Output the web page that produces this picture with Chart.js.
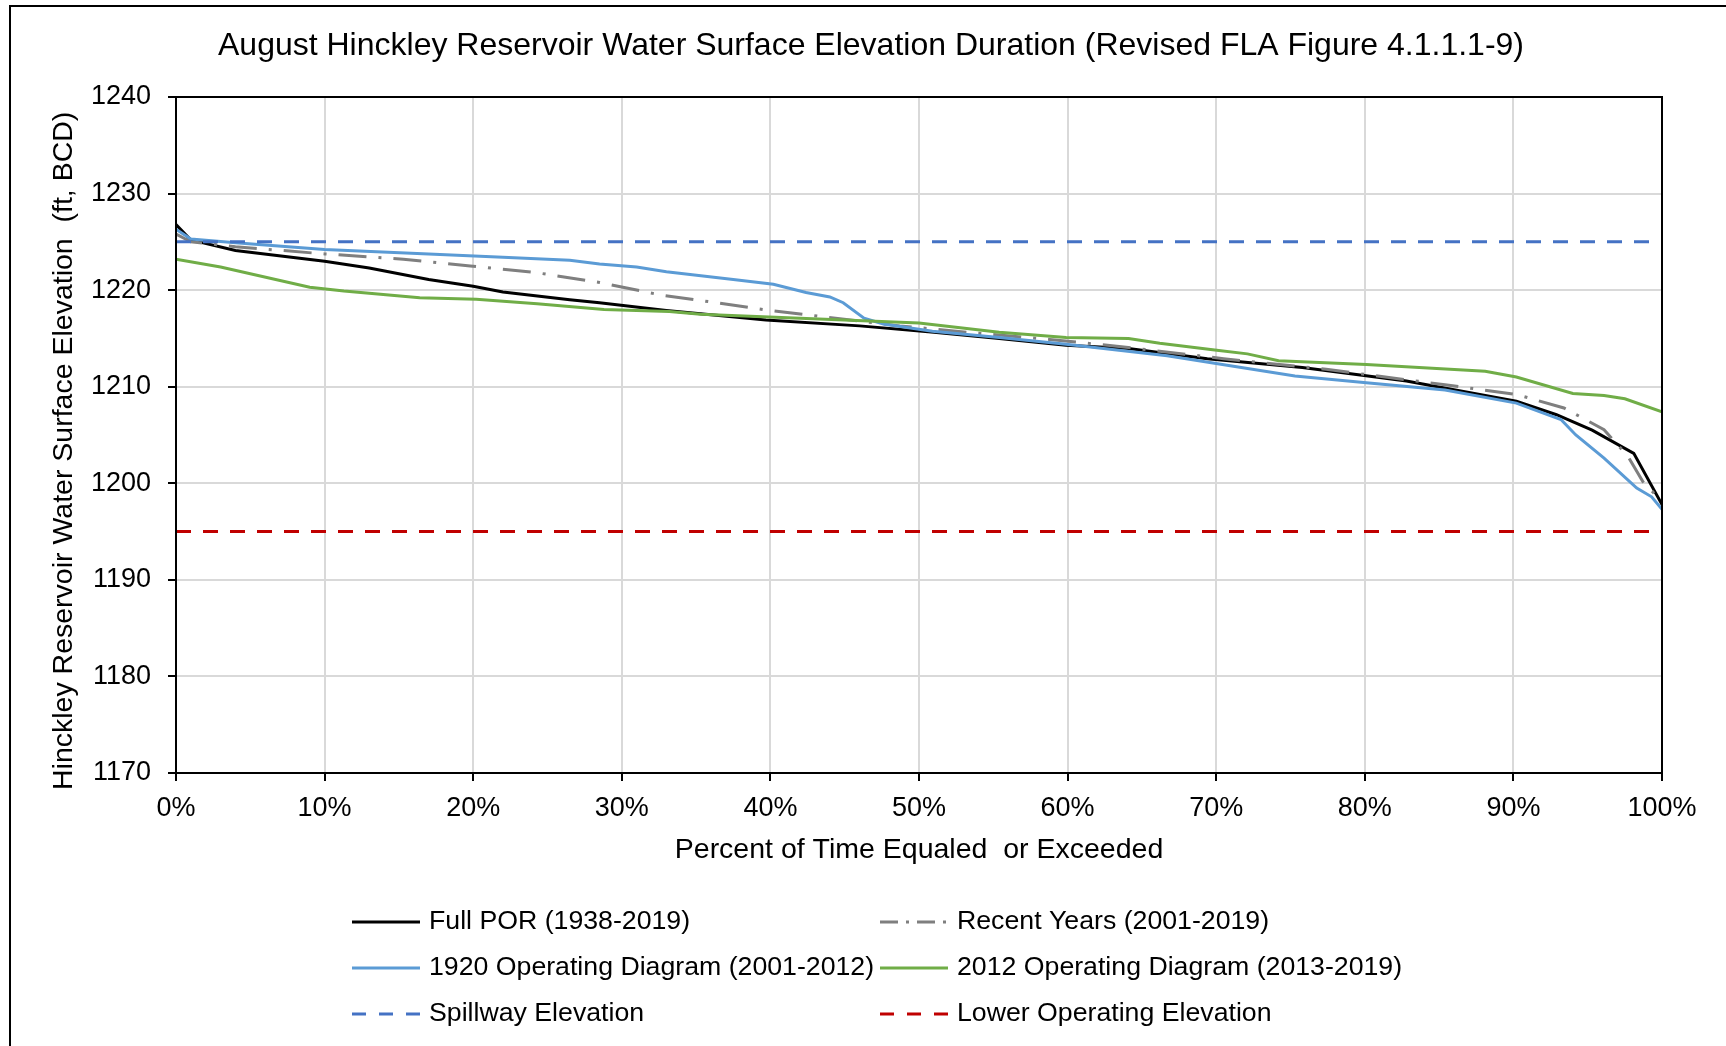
<!DOCTYPE html>
<html>
<head>
<meta charset="utf-8">
<script src="https://cdn.jsdelivr.net/npm/chart.js@4.4.1/dist/chart.umd.min.js"></script>
<style>
  html, body { margin: 0; padding: 0; background: #fff; }
  #wrap { position: relative; width: 1726px; height: 1046px; }
  #frame { position: absolute; left: 9px; top: 5px; right: 0; bottom: 0;
           border-left: 2px solid #000; border-top: 2px solid #000; pointer-events: none; }
  canvas { display: block; }
</style>
</head>
<body>
<div id="wrap">
  <canvas id="chart" width="1726" height="1046"></canvas>
  <div id="frame"></div>
</div>
<script>
// values (x = percent of time, y = elevation ft BCD)
const fullX = [0, 1, 4, 10, 13, 17, 20, 22, 26.5, 28.5, 33, 39.7, 46, 51, 55.4, 59.9, 64.1, 69.4, 75.8, 82.8, 90.2, 92.9, 95.3, 98.1, 100];
const fullY = [1226.8, 1225.2, 1224.1, 1223.0, 1222.3, 1221.1, 1220.4, 1219.8, 1219.0, 1218.7, 1217.9, 1216.9, 1216.3, 1215.65, 1215.0, 1214.3, 1213.95, 1212.9, 1212.0, 1210.6, 1208.5, 1207.1, 1205.5, 1203.1, 1197.8];

const recentX = [0, 1, 4, 10, 15.3, 19.8, 24.3, 28.5, 32.6, 35.9, 39.7, 43.8, 48.7, 53.2, 58.8, 64.1, 70.5, 77.4, 85.4, 90.2, 93.4, 96.1, 97.7, 98.7, 100];
const recentY = [1225.8, 1225.0, 1224.5, 1223.75, 1223.2, 1222.5, 1221.8, 1220.8, 1219.5, 1218.8, 1217.95, 1217.2, 1216.3, 1215.65, 1214.9, 1214.06, 1212.9, 1211.8, 1210.2, 1209.2, 1207.8, 1205.55, 1202.8, 1200.2, 1198.1];

const op1920X = [0, 1, 4, 10, 17, 22, 26.5, 28.5, 31, 33, 37.5, 40.2, 42.4, 44, 44.9, 46.3, 47.6, 50.9, 55.4, 59.9, 66.7, 75.3, 80.1, 85.4, 90.2, 93.2, 94.2, 96.1, 98.3, 99.3, 100];
const op1920Y = [1226.3, 1225.3, 1224.9, 1224.2, 1223.75, 1223.4, 1223.1, 1222.7, 1222.4, 1221.9, 1221.1, 1220.6, 1219.75, 1219.3, 1218.7, 1217.1, 1216.5, 1215.75, 1215.1, 1214.4, 1213.2, 1211.1, 1210.4, 1209.65, 1208.3, 1206.6, 1205.0, 1202.6, 1199.5, 1198.6, 1197.3];

const op2012X = [0, 3, 9, 11.3, 16.4, 20.2, 24.3, 28.8, 33.2, 35.3, 42, 50, 55.4, 59.9, 64.1, 66.2, 69.9, 72.1, 74.2, 80.1, 88.1, 90.2, 94, 96.1, 97.5, 100];
const op2012Y = [1223.2, 1222.4, 1220.3, 1219.9, 1219.2, 1219.05, 1218.6, 1218.0, 1217.8, 1217.5, 1217.1, 1216.6, 1215.65, 1215.1, 1215.0, 1214.5, 1213.8, 1213.4, 1212.7, 1212.3, 1211.6, 1211.0, 1209.3, 1209.1, 1208.75, 1207.4];

const limitX = [0, 100];
const spillwayY = [1225, 1225];
const lowerOpY = [1195, 1195];

const labels = [
  'Full POR (1938-2019)',
  'Recent Years (2001-2019)',
  '1920 Operating Diagram (2001-2012)',
  '2012 Operating Diagram (2013-2019)',
  'Spillway Elevation',
  'Lower Operating Elevation'
];

const chartTitle = 'August Hinckley Reservoir Water Surface Elevation Duration (Revised FLA Figure 4.1.1.1-9)';

function pts(xs, ys) {
  return xs.map((x, i) => ({ x: x, y: ys[i] }));
}

const FONT = 'Arial, "Liberation Sans", sans-serif';

// title sits a bit right of centre in the original, so draw it here
const titlePlugin = {
  id: 'excelTitle',
  afterDraw(chart) {
    const ctx = chart.ctx;
    ctx.save();
    ctx.fillStyle = '#000';
    ctx.font = '32px ' + FONT;
    ctx.textAlign = 'center';
    ctx.textBaseline = 'middle';
    ctx.fillText(chartTitle, 871, 46);
    ctx.restore();
  }
};

// two-column legend like the Excel one
const legendCols = [352, 880];
const legendRows = [922, 968, 1014];
const legendPlugin = {
  id: 'excelLegend',
  afterDraw(chart) {
    const ctx = chart.ctx;
    ctx.save();
    chart.data.datasets.forEach((ds, i) => {
      const x = legendCols[i % 2];
      const y = legendRows[Math.floor(i / 2)];
      ctx.beginPath();
      ctx.strokeStyle = ds.borderColor;
      ctx.lineWidth = 3;
      ctx.setLineDash(ds.legendDash || []);
      ctx.moveTo(x, y);
      ctx.lineTo(x + 68, y);
      ctx.stroke();
      ctx.setLineDash([]);
      ctx.fillStyle = '#000';
      ctx.font = '26.7px ' + FONT;
      ctx.textBaseline = 'middle';
      ctx.fillText(ds.label, x + 77, y);
    });
    ctx.restore();
  }
};

// black frame around plot area
const framePlugin = {
  id: 'plotFrame',
  afterDatasetsDraw(chart) {
    const a = chart.chartArea;
    const ctx = chart.ctx;
    ctx.save();
    ctx.strokeStyle = '#000';
    ctx.lineWidth = 2;
    ctx.strokeRect(a.left, a.top, a.right - a.left, a.bottom - a.top);
    ctx.restore();
  }
};

const ctx = document.getElementById('chart').getContext('2d');
new Chart(ctx, {
  type: 'line',
  data: {
    datasets: [
      { label: labels[0], data: pts(fullX, fullY), borderColor: '#000000', borderWidth: 3, order: 6 },
      { label: labels[1], data: pts(recentX, recentY), borderColor: '#7f7f7f', borderWidth: 3,
        borderDash: [28, 12, 3, 12], legendDash: [18, 8, 3, 8], order: 5 },
      { label: labels[2], data: pts(op1920X, op1920Y), borderColor: '#5b9bd5', borderWidth: 3, order: 4 },
      { label: labels[3], data: pts(op2012X, op2012Y), borderColor: '#70ad47', borderWidth: 3, order: 3 },
      { label: labels[4], data: pts(limitX, spillwayY), borderColor: '#4472c4', borderWidth: 3,
        borderDash: [15, 12], legendDash: [14, 13], order: 2 },
      { label: labels[5], data: pts(limitX, lowerOpY), borderColor: '#c00000', borderWidth: 3,
        borderDash: [15, 12], legendDash: [14, 13], order: 1 }
    ]
  },
  options: {
    responsive: false,
    animation: false,
    elements: {
      point: { radius: 0 },
      line: { tension: 0, fill: false, borderCapStyle: 'butt' }
    },
    layout: { padding: { left: 10, right: 64, top: 97, bottom: 0 } },
    plugins: {
      legend: { display: false },
      tooltip: { enabled: false },
      title: { display: false }
    },
    scales: {
      x: {
        type: 'linear',
        min: 0,
        max: 100,
        afterFit(scale) { scale.height = 273; },
        ticks: {
          stepSize: 10,
          color: '#000',
          padding: 11,
          maxRotation: 0,
          font: { family: FONT, size: 27 },
          callback: v => v + '%'
        },
        grid: { color: '#d9d9d9', lineWidth: 2, tickColor: '#000', tickLength: 8 },
        border: { color: '#000', width: 2 },
        title: {
          display: true,
          text: 'Percent of Time Equaled  or Exceeded',
          color: '#000',
          font: { family: FONT, size: 28.5, lineHeight: 1.2 },
          padding: { bottom: 179 }
        }
      },
      y: {
        min: 1170,
        max: 1240,
        afterFit(scale) { scale.width = 166; },
        ticks: {
          stepSize: 10,
          color: '#000',
          padding: 17,
          font: { family: FONT, size: 27 },
          callback: v => String(v)
        },
        grid: { color: '#d9d9d9', lineWidth: 2, tickColor: '#000', tickLength: 8 },
        border: { color: '#000', width: 2 },
        title: {
          display: true,
          text: 'Hinckley Reservoir Water Surface Elevation  (ft, BCD)    ',
          color: '#000',
          font: { family: FONT, size: 28.5, lineHeight: 1.2 },
          padding: { top: 37 }
        }
      }
    }
  },
  plugins: [titlePlugin, legendPlugin, framePlugin]
});
</script>
</body>
</html>
